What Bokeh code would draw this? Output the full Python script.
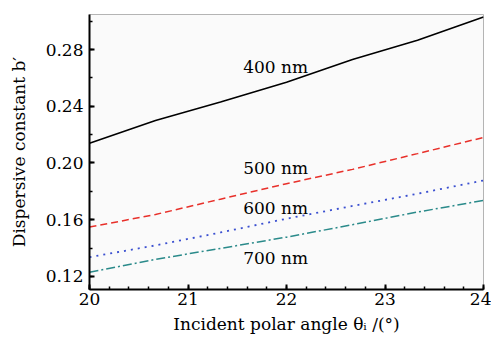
from bokeh.plotting import figure
from bokeh.models import Range1d, SingleIntervalTicker, NumeralTickFormatter, ColumnDataSource
from bokeh.core.properties import value
from bokeh.embed import file_html
from bokeh.resources import INLINE

# Data
angle = [20, 20.67, 21.33, 22, 22.67, 23.33, 24]
b_400 = [0.214, 0.230, 0.243, 0.257, 0.273, 0.2865, 0.303]
b_500 = [0.1548, 0.1637, 0.1745, 0.1854, 0.1955, 0.2066, 0.218]
b_600 = [0.1336, 0.1419, 0.151, 0.1607, 0.1697, 0.1783, 0.1877]
b_700 = [0.123, 0.132, 0.1398, 0.1477, 0.1565, 0.1654, 0.1736]

labels = ["400 nm", "500 nm", "600 nm", "700 nm"]
label_x = [21.56, 21.56, 21.56, 21.56]
label_y = [0.2677, 0.1967, 0.1685, 0.1332]

FONT = "'DejaVu Serif', serif"

p = figure(width=491, height=338, output_backend="svg", toolbar_location=None,
           x_range=Range1d(20, 24), y_range=Range1d(0.1108, 0.3047),
           min_border_left=89, min_border_right=8, min_border_top=14, min_border_bottom=49)
p.background_fill_color = "#fafafa"
p.border_fill_color = "#ffffff"
p.outline_line_color = "#b4b4b4"
p.outline_line_width = 1
p.xgrid.visible = False
p.ygrid.visible = False

p.line(angle, b_400, line_color="black", line_width=1.6)
p.line(angle, b_500, line_color="#e8302a", line_width=1.5, line_dash="7 4")
p.line(angle, b_600, line_color="#3a4fd0", line_width=1.8, line_dash="2 5")
p.line(angle, b_700, line_color="#2a8a8a", line_width=1.5, line_dash="9 3 2 3")

src = ColumnDataSource(dict(x=label_x, y=label_y, t=labels))
p.text(x="x", y="y", text="t", source=src, text_font=value(FONT), text_font_size="17px",
       text_align="left", text_baseline="middle", text_color="black")

p.xaxis.ticker = SingleIntervalTicker(interval=1, num_minor_ticks=5)
p.yaxis.ticker = SingleIntervalTicker(interval=0.04, num_minor_ticks=2)
p.yaxis.formatter = NumeralTickFormatter(format="0.00")

for ax in (p.xaxis[0], p.yaxis[0]):
    ax.axis_line_width = 2
    ax.axis_line_color = "black"
    ax.major_tick_in = 5
    ax.major_tick_out = 0
    ax.minor_tick_in = 3
    ax.minor_tick_out = 0
    ax.major_tick_line_width = 2
    ax.minor_tick_line_width = 1.5
    ax.major_label_text_font = FONT
    ax.major_label_text_font_size = "17px"
    ax.major_label_text_color = "black"
    ax.axis_label_text_font = FONT
    ax.axis_label_text_font_size = "17px"
    ax.axis_label_text_font_style = "normal"
    ax.axis_label_text_color = "black"

p.xaxis.axis_label = "Incident polar angle θᵢ /(°)"
p.yaxis.axis_label = "Dispersive constant b′"
p.xaxis.major_label_standoff = 3
p.yaxis.major_label_standoff = 6
p.xaxis.axis_label_standoff = 6
p.yaxis.axis_label_standoff = 14

open("out.html", "w").write(file_html(p, INLINE))
